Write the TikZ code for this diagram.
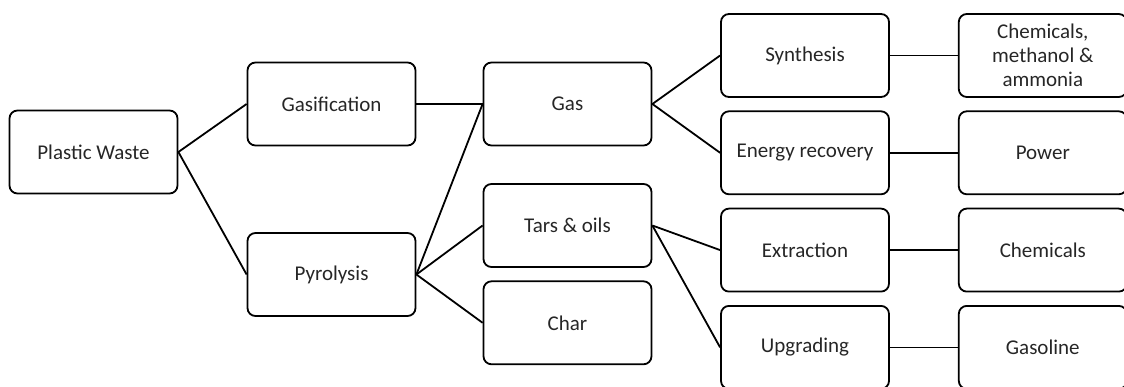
\documentclass[tikz,border=0pt]{standalone}
\usepackage{fontspec}
\setmainfont{Carlito}
\usetikzlibrary{positioning}

\begin{document}
\begin{tikzpicture}[x=1pt, y=1pt,
  every node/.style={draw, rounded corners=8pt, line width=1.8pt,
   minimum width=168pt, minimum height=83pt, align=center,
   font=\fontsize{21}{24}\selectfont, text=black!85},
  node distance=12.5pt and 68pt,
  line width=1.8pt
 ]
 \useasboundingbox (0,0) rectangle (1124,-387);

 \node at (93.5,-152) (W) {Plastic Waste};
 \node at (331.5,-104) (Gf) {Gasification};
 \node at (331.5,-274.5) (Py) {Pyrolysis};
 \node at (567.5,-104) (Ga) {Gas};
 \node at (567.5,-225.5) (T) {Tars \& oils};
 \node [below=of T] (Ch) {Char};
 \node at (805,-55.5) (Sy) {Synthesis};
 \node [below=of Sy] (Er) {Energy recovery};
 \node [below=of Er] (Ex) {Extraction};
 \node [below=of Ex] (Up) {Upgrading};
 \node [right=of Sy] (Cm) {Chemicals,\\methanol \&\\ammonia};
 \node [right=of Er] (Pw) {Power};
 \node [right=of Ex] (Cl) {Chemicals};
 \node [right=of Up] (Gl) {Gasoline};

 \draw (W.east) -- (Gf.west);
 \draw (W.east) -- (Py.west);
 \draw (Gf) -- (Ga);
 \foreach \x in {Ga,T,Ch}
  \draw (Py.east) -- (\x.west);
 \draw (Ga.east) -- (Sy.west);
 \draw (Ga.east) -- (Er.west);
 \draw (T.east) -- (Ex.west);
 \draw (T.east) -- (Up.west);
 \draw (Sy) -- (Cm);
 \draw (Er) -- (Pw);
 \draw (Ex) -- (Cl);
 \draw (Up) -- (Gl);
\end{tikzpicture}
\end{document}
